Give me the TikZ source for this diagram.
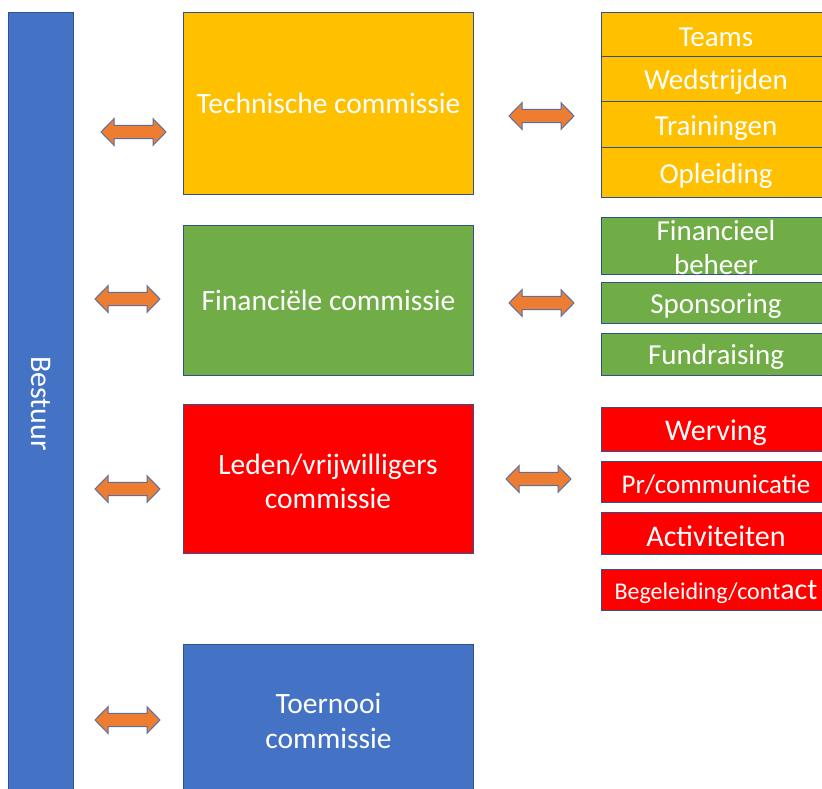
\documentclass[tikz,border=0pt]{standalone}
\usepackage{fontspec}
\setmainfont{Carlito}
\definecolor{cyellow}{RGB}{255,192,0}
\definecolor{cgreen}{RGB}{112,173,71}
\definecolor{cred}{RGB}{255,0,0}
\definecolor{cblue}{RGB}{68,114,196}
\definecolor{cedge}{RGB}{47,82,143}
\definecolor{corange}{RGB}{237,125,49}
\definecolor{carrowedge}{RGB}{90,110,160}
\tikzset{
  box/.style={draw=cedge, line width=1pt, text=white, align=center, anchor=north west,
    inner sep=0pt, font=\fontsize{29.5}{35}\selectfont},
  rbox/.style={box, minimum width=240pt},
  mbox/.style={box, minimum width=290pt},
  rlabel/.style={text=white, align=center, font=\fontsize{29}{34}\selectfont},
  arrowshape/.style={fill=corange, draw=carrowedge, line width=1pt, line join=miter},
  pics/dblarrow/.style={code={
    \path[arrowshape] (-32.5,0) -- (-19.5,13.3) -- (-19.5,6.7) -- (19.5,6.7) -- (19.5,13.3)
      -- (32.5,0) -- (19.5,-13.3) -- (19.5,-6.7) -- (-19.5,-6.7) -- (-19.5,-13.3) -- cycle;}}
}
\begin{document}
\begin{tikzpicture}[x=1pt,y=-1pt]
\useasboundingbox[fill=white] (0,0) rectangle (822,789);
\clip (0,0) rectangle (822,789);
% Bestuur bar
\node[box, fill=cblue, minimum width=65pt, minimum height=782pt] (bestuur) at (8,12) {};
\node[text=white, rotate=-90, font=\fontsize{30}{34}\selectfont] (bestuurlabel) at (bestuur.center) {Bestuur};
% middle column
\node[mbox, fill=cyellow, minimum height=182pt] (tech) at (183,12) {Technische commissie};
\node[mbox, fill=cgreen, minimum height=150pt] (fin) at (183,225) {Financiële commissie};
\node[mbox, fill=cred, minimum height=149pt] (leden) at (183,404) {};
\node[text=white, align=center, font=\fontsize{29.5}{34}\selectfont] (ledenl) at (328,481) {Leden/vrijwilligers\\commissie};
\node[mbox, fill=cblue, minimum height=152pt] (toer) at (183,644) {Toernooi\\commissie};
% right column: technical
\node[rbox, fill=cyellow, minimum height=44pt] (teams) at (601,12) {};
\node[rbox, fill=cyellow, minimum height=45pt] (wed) at (601,56) {};
\node[rbox, fill=cyellow, minimum height=46pt] (train) at (601,101) {};
\node[rbox, fill=cyellow, minimum height=50pt] (opl) at (601,147) {};
\node[rlabel] (teamsl) at (716,37.5) {Teams};
\node[rlabel] (wedl) at (716,81.5) {Wedstrijden};
\node[rlabel] (trainl) at (716,128) {Trainingen};
\node[rlabel] (opll) at (716,175.5) {Opleiding};
% right column: financial
\node[rbox, fill=cgreen, minimum height=57pt] (finb) at (601,217) {};
\node[rbox, fill=cgreen, minimum height=41pt] (spons) at (601,282) {};
\node[rbox, fill=cgreen, minimum height=42pt] (fund) at (601,333) {};
\node[rlabel] (finbl) at (716,247.5) {Financieel\\beheer};
\node[rlabel] (sponsl) at (716,306) {Sponsoring};
\node[rlabel] (fundl) at (716,357) {Fundraising};
% right column: members
\node[rbox, fill=cred, minimum height=44pt] (werv) at (601,407) {};
\node[rbox, fill=cred, minimum height=41pt] (pr) at (601,461) {};
\node[rbox, fill=cred, minimum height=42pt] (act) at (601,512) {};
\node[rbox, fill=cred, minimum height=41pt] (beg) at (601,569) {};
\node[rlabel, font=\fontsize{30}{34}\selectfont] (wervl) at (716,433) {Werving};
\node[rlabel, font=\fontsize{27}{32}\selectfont] (prl) at (716,484.5) {Pr/communicatie};
\node[rlabel, font=\fontsize{30}{34}\selectfont] (actl) at (716,536) {Activiteiten};
\node[text=white] (begl) at (716,592) {{\fontsize{24}{28}\selectfont Begeleiding/cont}{\fontsize{30}{34}\selectfont act}};
% arrows
\pic (al1) at (133.5,132) {dblarrow};
\pic (al2) at (127.5,299) {dblarrow};
\pic (al3) at (127.5,489) {dblarrow};
\pic (al4) at (127.5,720) {dblarrow};
\pic (ar1) at (541.5,116) {dblarrow};
\pic (ar2) at (541.5,303) {dblarrow};
\pic (ar3) at (538.5,479) {dblarrow};
\end{tikzpicture}
\end{document}
